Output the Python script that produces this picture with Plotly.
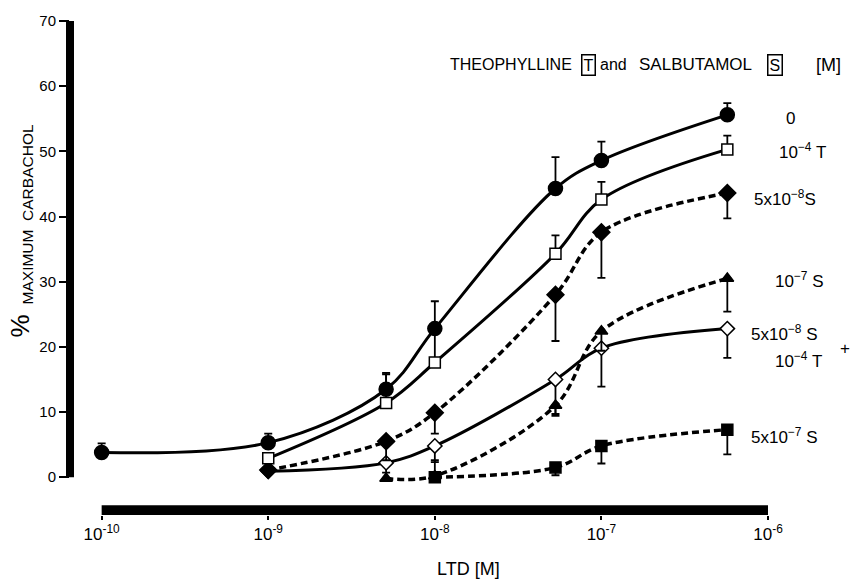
import plotly.graph_objects as go

# ---- data ----
x_cols = [1e-10, 1e-9, 5.1e-9, 1.0e-8, 5.3e-8, 1.0e-7, 5.7e-7]

ctrl_x = x_cols
ctrl_y = [3.8, 5.3, 13.5, 22.8, 44.3, 48.6, 55.6]
ctrl_up = [1.4, 1.4, 2.5, 4.2, 4.8, 2.9, 1.8]

theo_x = x_cols[1:]
theo_y = [2.9, 11.4, 17.6, 34.3, 42.6, 50.3]
theo_up = [0, 4.4, 5.2, 2.8, 2.7, 2.1]

salb58_x = x_cols[1:]
salb58_y = [1.1, 5.5, 9.9, 28.0, 37.6, 43.6]
salb58_dn = [0, 2.9, 3.2, 7.1, 7.0, 3.9]

salb7_x = [5.1e-9, 1.0e-8, 5.3e-8, 1.0e-7, 5.7e-7]
salb7_y = [-0.2, 0.2, 11.0, 22.4, 30.5]
salb7_dn = [0, 0, 1.6, 3.0, 5.1]

combo_x = x_cols[1:]
combo_y = [0.9, 2.2, 4.8, 15.0, 19.8, 22.8]
combo_dn = [0, 1.5, 2.5, 5.3, 5.9, 4.5]

salb57_x = [1.0e-8, 5.3e-8, 1.0e-7, 5.7e-7]
salb57_y = [0.0, 1.5, 4.8, 7.3]
salb57_up = [2.6, 0, 0, 0]
salb57_dn = [0, 1.2, 2.7, 3.8]

x_tickvals = [1e-10, 1e-9, 1e-8, 1e-7, 1e-6]
x_ticktext = ["10<sup>-10</sup>", "10<sup>-9</sup>", "10<sup>-8</sup>", "10<sup>-7</sup>", "10<sup>-6</sup>"]
y_tickvals = [0, 10, 20, 30, 40, 50, 60, 70]

FONT = "Liberation Sans"
BLK = "black"

fig = go.Figure()


def add_series(x, y, symbol, size, fill, dash, width, up=None, dn=None):
    n = len(y)
    err = dict(type="data", symmetric=False,
               array=up if up is not None else [0] * n,
               arrayminus=dn if dn is not None else [0] * n,
               color=BLK, thickness=1.8, width=4)
    fig.add_trace(go.Scatter(
        x=x, y=y, mode="lines+markers",
        line=dict(color=BLK, width=width, dash=dash, shape="spline", smoothing=1.0),
        marker=dict(symbol=symbol, size=size, color=fill,
                    line=dict(color=BLK, width=1.5)),
        error_y=err, showlegend=False, cliponaxis=False))


add_series(combo_x, combo_y, "diamond", 11, "white", "solid", 3, dn=combo_dn)
add_series(salb7_x, salb7_y, "triangle-up", 11, BLK, "7px,4px", 3.5, dn=salb7_dn)
add_series(salb57_x, salb57_y, "square", 11, BLK, "7px,4px", 3.5, up=salb57_up, dn=salb57_dn)
add_series(salb58_x, salb58_y, "diamond", 13, BLK, "7px,4px", 3.5, dn=salb58_dn)
add_series(theo_x, theo_y, "square", 11, "white", "solid", 3, up=theo_up)
add_series(ctrl_x, ctrl_y, "circle", 14, BLK, "solid", 3, up=ctrl_up)

# axis decorations: thick y axis line and separated thick x bar
fig.add_shape(type="line", xref="paper", yref="y", x0=0, x1=0, y0=0, y1=70,
              line=dict(color=BLK, width=8))
fig.add_shape(type="rect", xref="x", yref="y", x0=x_tickvals[0], x1=x_tickvals[-1],
              y0=-5.8, y1=-4.3, line=dict(width=0), fillcolor=BLK)

ann = []


def txt(x, y, s, size=16, xanchor="left", **kw):
    ann.append(dict(x=x, y=y, xref="paper", yref="paper", text=s, showarrow=False,
                    xanchor=xanchor, yanchor="middle",
                    font=dict(family=FONT, size=size, color=BLK), **kw))


W, H = 852, 583
L, R, T, B = 70, 84, 17, 68
pw, ph = W - L - R, H - T - B


def px(xp, yp):
    return (xp - L) / pw, 1 - (yp - T) / ph


# title with boxed letters
txt(*px(448, 61), "THEOPHYLLINE")
txt(*px(588, 61), "T", xanchor="center", bordercolor=BLK, borderwidth=1.5, borderpad=1)
txt(*px(598, 61), "and")
txt(*px(695, 61), "SALBUTAMOL", size=17, xanchor="center")
txt(*px(775, 61), "S", xanchor="center", bordercolor=BLK, borderwidth=1.5, borderpad=1)
txt(*px(843, 61), "[M]", size=18, xanchor="right")

# series labels
txt(*px(790, 115), "0", size=17, xanchor="center")
txt(*px(777, 148), "10<sup>−4</sup> T", size=17)
txt(*px(752, 195), "5x10<sup>−8</sup>S", size=17)
txt(*px(773, 278), "10<sup>−7</sup> S", size=17)
txt(*px(749, 332), "5x10<sup>−8</sup> S", size=17)
txt(*px(773, 359), "10<sup>−4</sup> T", size=17)
txt(*px(845, 347), "+", size=17, xanchor="center")
txt(*px(749, 435), "5x10<sup>−7</sup> S", size=17)

# axis titles
txt(*px(468, 569), "LTD [M]", size=18, xanchor="center")
ann.append(dict(x=px(20, 325)[0], y=px(20, 325)[1], xref="paper", yref="paper",
                text="%", showarrow=False, textangle=-90, xanchor="center", yanchor="middle",
                font=dict(family=FONT, size=26, color=BLK)))
ann.append(dict(x=px(27, 212)[0], y=px(27, 212)[1], xref="paper", yref="paper",
                text="MAXIMUM  CARBACHOL", showarrow=False, textangle=-90,
                xanchor="center", yanchor="middle",
                font=dict(family=FONT, size=15.5, color=BLK)))

fig.update_layout(
    width=W, height=H,
    margin=dict(l=L, r=R, t=T, b=B),
    paper_bgcolor="white", plot_bgcolor="white",
    annotations=ann,
    xaxis=dict(type="log", range=[-10.19, -6], showgrid=False, zeroline=False,
               showline=False, tickvals=x_tickvals, ticktext=x_ticktext,
               ticks="outside", ticklen=4, tickwidth=2, tickcolor=BLK,
               tickfont=dict(family=FONT, size=17, color=BLK)),
    yaxis=dict(range=[-5.8, 70], showgrid=False, zeroline=False, showline=False,
               tickvals=y_tickvals, ticks="outside", ticklen=10, tickwidth=1.5,
               tickcolor=BLK, tickfont=dict(family=FONT, size=15, color=BLK)),
)

fig.write_html("out.html", config={"displayModeBar": False},
               post_script="document.body.style.margin='0px';")
